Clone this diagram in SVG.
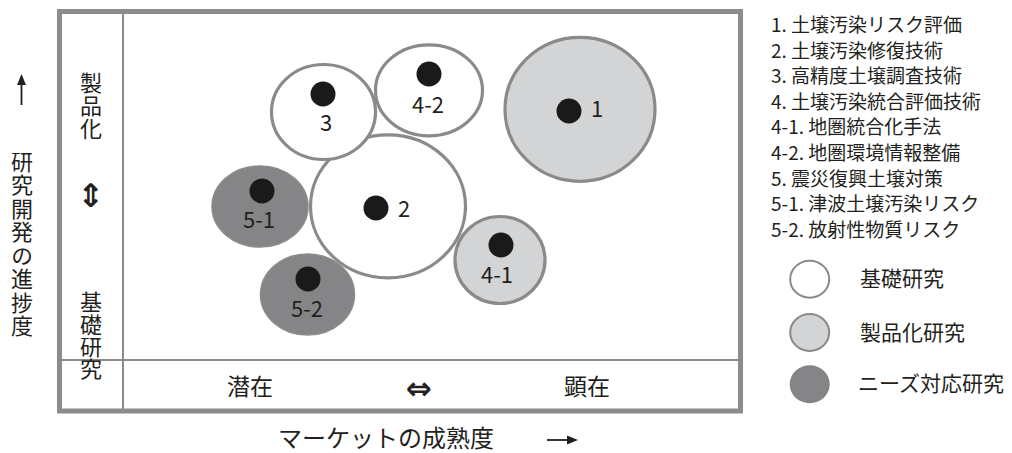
<svg xmlns="http://www.w3.org/2000/svg" width="1012" height="453" viewBox="0 0 1012 453">
<style>
.jp{font-family:"Noto Sans CJK JP","Noto Sans",sans-serif;fill:#231f20}
.vt{font-family:"Noto Sans CJK JP","Noto Sans",sans-serif;fill:#231f20;font-size:22px;writing-mode:vertical-rl}
.lbl{font-family:"Noto Sans CJK JP","Noto Sans",sans-serif;font-size:22px;fill:#231f20;text-anchor:middle}
.list{font-size:19px}
.leg{font-size:21px}
.base{fill:#ffffff;stroke:#8a8a8a;stroke-width:3.2}
.prod{fill:#d3d4d6;stroke:#8a8a8a;stroke-width:3.2}
.need{fill:#858587;stroke:#8c8c8e;stroke-width:1.5}
.dot{fill:#1a1a1a}
.sym{font-family:"DejaVu Sans",sans-serif;font-weight:bold;fill:#231f20;text-anchor:middle}
</style>
<rect width="1012" height="453" fill="#ffffff"/>
<g id="frame" fill="none" stroke="#8c8c8c">
<rect x="59.5" y="11.5" width="681" height="399.5" stroke-width="5"/>
<line x1="123" y1="11.5" x2="123" y2="411" stroke-width="2"/>
<line x1="59.5" y1="360" x2="740.5" y2="360" stroke-width="2"/>
</g>
<g id="y-axis-labels">
<text class="vt" x="91" y="71.5" letter-spacing="1.3">製品化</text>
<text class="sym" x="91" y="207" font-size="32">⇕</text>
<text class="vt" x="91" y="291" letter-spacing="0.3">基礎研究</text>
</g>
<g id="x-axis-labels">
<text class="jp" x="250" y="395" font-size="23" text-anchor="middle">潜在</text>
<text class="sym" x="419" y="399" font-size="31">⇔</text>
<text class="jp" x="587" y="395" font-size="23" text-anchor="middle">顕在</text>
</g>
<g id="axis-titles">
<g stroke="#231f20" fill="#231f20">
<line x1="21.5" y1="105" x2="21.5" y2="82" stroke-width="1.8"/>
<polygon points="21.5,74 17,85 26,85" stroke="none"/>
<line x1="547" y1="440" x2="569" y2="440" stroke-width="1.8"/>
<polygon points="578,440 567,435.5 567,444.5" stroke="none"/>
</g>
<text class="vt" x="22" y="150.5" letter-spacing="1.5">研究開発の進捗度</text>
<text class="jp" x="278" y="447" font-size="24">マーケットの成熟度</text>
</g>
<g id="node-2">
<ellipse class="base" cx="388" cy="206.3" rx="77.5" ry="71.5"/>
<circle class="dot" cx="376" cy="208" r="12.5"/>
<text class="jp" x="398" y="217" font-size="22">2</text>
</g>
<g id="node-3">
<ellipse class="base" cx="323.5" cy="112" rx="52" ry="47.5"/>
<circle class="dot" cx="323" cy="94" r="12.5"/>
<text class="lbl" x="326" y="131">3</text>
</g>
<g id="node-4-2">
<ellipse class="base" cx="429" cy="90.3" rx="53.5" ry="45.5"/>
<circle class="dot" cx="429" cy="74" r="12.5"/>
<text class="lbl" x="428" y="113">4-2</text>
</g>
<g id="node-1">
<ellipse class="prod" cx="580" cy="109.3" rx="75" ry="72"/>
<circle class="dot" cx="569" cy="111" r="12.5"/>
<text class="jp" x="591" y="117" font-size="22">1</text>
</g>
<g id="node-4-1">
<ellipse class="prod" cx="500" cy="260" rx="45" ry="43.5"/>
<circle class="dot" cx="501" cy="245" r="12.5"/>
<text class="lbl" x="497" y="283">4-1</text>
</g>
<g id="node-5-1">
<ellipse class="need" cx="260" cy="206.5" rx="48" ry="40.5"/>
<circle class="dot" cx="262" cy="191" r="12.5"/>
<text class="lbl" x="259" y="228">5-1</text>
</g>
<g id="node-5-2">
<ellipse class="need" cx="307.5" cy="294.5" rx="47" ry="40.5"/>
<circle class="dot" cx="308" cy="279" r="12.5"/>
<text class="lbl" x="307" y="317">5-2</text>
</g>
<g id="connectors"></g>
<g id="legend-list">
<text class="jp list" x="771" y="32">1. 土壌汚染リスク評価</text>
<text class="jp list" x="771" y="57.6">2. 土壌汚染修復技術</text>
<text class="jp list" x="771" y="83.2">3. 高精度土壌調査技術</text>
<text class="jp list" x="771" y="108.8">4. 土壌汚染統合評価技術</text>
<text class="jp list" x="771" y="134.4">4-1. 地圏統合化手法</text>
<text class="jp list" x="771" y="160">4-2. 地圏環境情報整備</text>
<text class="jp list" x="771" y="185.6">5. 震災復興土壌対策</text>
<text class="jp list" x="771" y="211.2">5-1. 津波土壌汚染リスク</text>
<text class="jp list" x="771" y="236.8">5-2. 放射性物質リスク</text>
</g>
<g id="legend-basic">
<ellipse cx="809.7" cy="279.2" rx="19.5" ry="18.5" fill="#ffffff" stroke="#8a8a8a" stroke-width="2"/>
<text class="jp leg" x="860" y="286">基礎研究</text>
</g>
<g id="legend-product">
<ellipse cx="809.7" cy="332.5" rx="19.5" ry="18.5" fill="#d3d4d6" stroke="#8a8a8a" stroke-width="2"/>
<text class="jp leg" x="860" y="340">製品化研究</text>
</g>
<g id="legend-needs">
<ellipse cx="809.7" cy="384.2" rx="20" ry="19" fill="#858587"/>
<text class="jp leg" x="858" y="391">ニーズ対応研究</text>
</g>
</svg>
